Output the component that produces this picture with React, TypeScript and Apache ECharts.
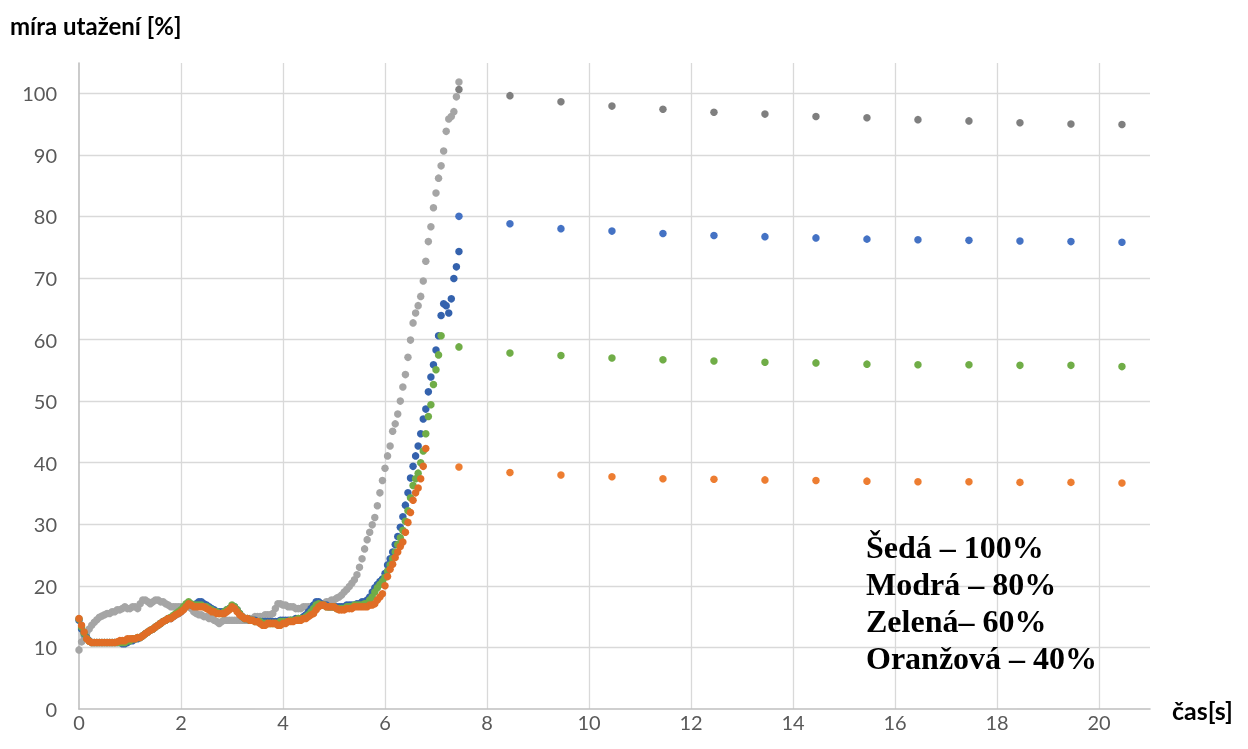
import React, { useEffect, useRef } from "react";
import * as echarts from "echarts";

// sampling step of the dense measurement (s)
const DT = 0.05;

// dense measurement, one value every DT seconds starting at t = 0
const grayDense = [
  9.6, 10.9, 11.8, 12.4, 13.0, 13.6, 14.1, 14.5, 14.9, 15.1,
  15.3, 15.5, 15.5, 15.8, 15.8, 16.1, 16.1, 16.3, 16.6, 16.3,
  16.3, 16.6, 16.6, 16.3, 17.1, 17.7, 17.7, 17.4, 17.1, 17.4,
  17.7, 17.7, 17.4, 17.4, 17.1, 16.9, 16.6, 16.6, 16.6, 16.6,
  16.6, 16.6, 16.6, 16.6, 16.3, 15.8, 15.5, 15.3, 15.3, 15.0,
  15.0, 14.7, 14.7, 14.4, 14.2, 13.9, 14.2, 14.4, 14.4, 14.4,
  14.4, 14.4, 14.4, 14.4, 14.4, 14.4, 14.4, 14.7, 14.7, 15.0,
  15.0, 15.0, 15.0, 15.3, 15.3, 15.3, 15.5, 16.3, 17.1, 17.1,
  16.9, 16.9, 16.6, 16.6, 16.6, 16.3, 16.3, 16.3, 16.6, 16.6,
  16.6, 16.6, 16.6, 16.9, 16.9, 17.1, 17.1, 17.4, 17.4, 17.7,
  17.7, 18.0, 18.2, 18.5, 19.0, 19.4, 19.9, 20.4, 21.0, 21.8,
  23.0, 24.4, 26.0, 27.5, 28.7, 29.9, 31.1, 33.0, 35.1, 37.1,
  39.1, 41.1, 42.7, 45.1, 46.3, 47.9, 50.0, 52.3, 54.3, 57.1,
  59.9, 62.7, 64.3, 65.5, 67.0, 69.5, 72.7, 75.9, 78.3, 81.4,
  83.8, 86.2, 88.2, 90.6, 93.8, 95.8, 96.2, 97.0, 99.4, 101.8,
];

const blueDense = [
  14.4, 13.0, 12.2, 11.6, 11.1, 10.8, 10.8, 10.8, 10.8, 10.8,
  10.8, 10.8, 10.8, 10.8, 10.8, 10.8, 10.8, 10.6, 10.6, 10.8,
  11.1, 11.1, 11.4, 11.4, 11.6, 11.9, 12.2, 12.5, 12.8, 13.0,
  13.3, 13.6, 13.9, 14.2, 14.4, 14.7, 14.7, 15.0, 15.3, 15.5,
  15.8, 16.3, 16.9, 17.1, 16.9, 16.9, 17.1, 17.4, 17.4, 17.1,
  16.9, 16.6, 16.3, 16.1, 15.8, 15.8, 15.8, 15.8, 16.1, 16.3,
  16.6, 16.6, 16.1, 15.5, 15.0, 14.7, 14.7, 14.4, 14.4, 14.4,
  14.2, 14.2, 14.2, 14.2, 14.2, 14.2, 14.2, 14.2, 14.2, 14.4,
  14.4, 14.4, 14.4, 14.4, 14.4, 14.7, 14.7, 14.7, 15.0, 15.3,
  15.8, 16.3, 16.9, 17.4, 17.4, 17.1, 16.9, 16.9, 16.6, 16.6,
  16.6, 16.6, 16.6, 16.6, 16.6, 16.9, 16.9, 16.9, 16.9, 17.1,
  17.1, 17.4, 17.4, 17.7, 18.2, 19.0, 19.7, 20.2, 20.7, 21.1,
  22.0, 23.4, 24.4, 25.5, 26.7, 28.0, 29.5, 31.2, 33.1, 35.1,
  37.5, 39.4, 41.1, 42.7, 44.7, 47.1, 48.7, 51.5, 53.9, 55.9,
  58.3, 60.6, 63.9, 65.8, 65.5, 64.3, 66.6, 69.9, 71.8, 74.3,
];

const greenDense = [
  14.6, 13.3, 12.3, 11.5, 11.0, 10.8, 10.8, 10.8, 10.8, 10.8,
  10.8, 10.8, 10.8, 10.8, 10.8, 10.8, 10.8, 10.8, 10.8, 11.1,
  11.1, 11.4, 11.4, 11.6, 11.6, 11.9, 12.2, 12.5, 12.8, 13.0,
  13.3, 13.6, 13.9, 14.2, 14.4, 14.7, 14.9, 15.2, 15.5, 15.8,
  16.1, 16.6, 17.1, 17.4, 17.1, 16.9, 16.9, 16.9, 16.9, 16.6,
  16.6, 16.3, 16.1, 15.8, 15.8, 15.5, 15.5, 15.8, 16.1, 16.3,
  16.9, 16.6, 16.1, 15.5, 15.0, 14.7, 14.7, 14.4, 14.4, 14.2,
  14.2, 14.2, 13.9, 13.9, 13.9, 13.9, 13.9, 13.9, 13.9, 14.2,
  14.2, 14.2, 14.2, 14.4, 14.4, 14.4, 14.7, 14.7, 14.7, 15.0,
  15.3, 15.8, 16.3, 16.9, 17.1, 16.9, 16.9, 16.6, 16.6, 16.6,
  16.6, 16.3, 16.3, 16.3, 16.3, 16.6, 16.6, 16.6, 16.9, 16.9,
  16.9, 16.9, 17.1, 17.1, 17.7, 18.2, 19.0, 19.7, 20.2, 20.7,
  21.4, 22.4, 23.4, 24.4, 25.5, 26.7, 27.8, 29.0, 30.5, 32.2,
  34.3, 36.3, 37.4, 38.3, 40.0, 41.9, 44.7, 47.5, 49.4, 52.7,
  55.1, 57.5, 60.6,
];

const orangeDense = [
  14.7, 13.6, 12.5, 11.4, 11.0, 10.8, 10.8, 10.8, 10.8, 10.8,
  10.8, 10.8, 10.8, 10.8, 10.8, 10.9, 11.1, 11.1, 11.1, 11.4,
  11.4, 11.4, 11.4, 11.6, 11.6, 11.9, 12.2, 12.5, 12.8, 13.0,
  13.3, 13.6, 13.9, 14.2, 14.4, 14.7, 14.7, 15.0, 15.3, 15.5,
  15.8, 16.1, 16.6, 17.1, 16.9, 16.6, 16.6, 16.6, 16.6, 16.6,
  16.3, 16.1, 15.8, 15.8, 15.5, 15.5, 15.5, 15.5, 15.8, 16.1,
  16.6, 16.3, 15.8, 15.3, 15.0, 14.7, 14.7, 14.4, 14.4, 14.2,
  14.2, 13.9, 13.6, 13.6, 13.9, 13.9, 13.9, 13.9, 13.6, 13.6,
  13.9, 13.9, 14.2, 14.2, 14.2, 14.4, 14.4, 14.4, 14.7, 14.7,
  15.0, 15.3, 15.5, 16.1, 16.6, 16.9, 16.9, 16.6, 16.6, 16.6,
  16.6, 16.3, 16.1, 16.1, 16.1, 16.3, 16.3, 16.3, 16.6, 16.6,
  16.6, 16.6, 16.6, 16.6, 16.9, 16.9, 17.1, 17.7, 18.2, 18.7,
  20.0, 21.5, 22.7, 23.5, 24.6, 25.5, 26.4, 27.1, 28.7, 30.3,
  31.9, 33.9, 35.1, 35.9, 37.4, 39.4, 42.3,
];

// sparse settled values
const tailTimes = [7.45, 8.45, 9.45, 10.45, 11.45, 12.45, 13.45, 14.45, 15.45, 16.45, 17.45, 18.45, 19.45, 20.45];
const grayTail = [100.6, 99.6, 98.6, 97.9, 97.4, 96.9, 96.6, 96.2, 96.0, 95.7, 95.5, 95.2, 95.0, 94.9];
const blueTail = [80.0, 78.8, 78.0, 77.6, 77.2, 76.9, 76.7, 76.5, 76.3, 76.2, 76.1, 76.0, 75.9, 75.8];
const greenTail = [58.8, 57.8, 57.4, 57.0, 56.7, 56.5, 56.3, 56.2, 56.0, 55.9, 55.9, 55.8, 55.8, 55.6];
const orangeTail = [39.3, 38.4, 38.0, 37.7, 37.4, 37.3, 37.2, 37.1, 37.0, 36.9, 36.9, 36.8, 36.8, 36.7];

const yTitle = "míra utažení [%]";
const xTitle = "čas[s]";
const noteLines = ["Šedá – 100%", "Modrá – 80%", "Zelená– 60%", "Oranžová – 40%"];

const dense = (vals: number[]) => vals.map((v, i) => [Number((i * DT).toFixed(2)), v]);
const tail = (vals: number[]) => vals.map((v, i) => [tailTimes[i], v]);

const GRID_COLOR = "#d9d9d9";
const T = "rgba(0,0,0,0)";
const gridColors = [T, GRID_COLOR, GRID_COLOR, GRID_COLOR, GRID_COLOR, GRID_COLOR, GRID_COLOR, GRID_COLOR, GRID_COLOR, GRID_COLOR, GRID_COLOR];

export default function App() {
  const ref = useRef<HTMLDivElement>(null);
  useEffect(() => {
    document.body.style.margin = "0";
    const chart = echarts.init(ref.current!, undefined, { renderer: "svg" });
    const sc = (name: string, data: number[][], color: string, size: number) => ({
      name,
      type: "scatter",
      data,
      symbol: "circle",
      symbolSize: size,
      itemStyle: { color, opacity: 1 },
      emphasis: { disabled: true },
    });
    chart.setOption({
      animation: false,
      grid: { left: 79, right: 98, top: 63, bottom: 40 },
      xAxis: {
        type: "value",
        min: 0,
        max: 21,
        interval: 2,
        axisLine: { show: true, onZero: false, lineStyle: { color: "#bfbfbf", width: 1.6 } },
        axisTick: { show: false },
        axisLabel: {
          color: "#595959",
          fontFamily: "Lato",
          fontSize: 20,
          margin: 3,
          formatter: (v: number) => (v % 2 === 0 ? String(v) : ""),
        },
        splitLine: { show: true, lineStyle: { color: gridColors, width: 1.3 } },
      },
      yAxis: {
        type: "value",
        min: 0,
        max: 104.9,
        interval: 10,
        axisLine: { show: true, onZero: false, lineStyle: { color: "#bfbfbf", width: 1.6 } },
        axisTick: { show: false },
        axisLabel: {
          color: "#595959",
          fontFamily: "Lato",
          fontSize: 20,
          margin: 22,
          formatter: (v: number) => (v % 10 === 0 ? String(v) : ""),
        },
        splitLine: { show: true, lineStyle: { color: gridColors, width: 1.3 } },
      },
      graphic: [
        {
          type: "text",
          left: 10,
          top: 13,
          style: { text: yTitle, font: "bold 24px Lato", fill: "#000" },
        },
        {
          type: "text",
          left: 1172,
          top: 697,
          style: { text: xTitle, font: "bold 25px Lato", fill: "#000" },
        },
        ...noteLines.map((t, i) => ({
          type: "text",
          left: 866,
          top: 531 + i * 37,
          z: 10,
          style: { text: t, font: "bold 32px 'Liberation Serif'", fill: "#000" },
        })),
      ],
      series: [
        sc("Šedá dense", dense(grayDense), "#a5a5a5", 7.5),
        sc("Šedá", tail(grayTail), "#7f7f7f", 7.5),
        sc("Modrá dense", dense(blueDense), "#3462ad", 7.5),
        sc("Modrá", tail(blueTail), "#4472c4", 7.5),
        sc("Zelená dense", dense(greenDense), "#70ad47", 7.5),
        sc("Zelená", tail(greenTail), "#70ad47", 7.5),
        sc("Oranžová dense", dense(orangeDense), "#e06d26", 7.5),
        sc("Oranžová", tail(orangeTail), "#ed7d31", 7.5),
      ],
    });
    return () => chart.dispose();
  }, []);
  return <div ref={ref} style={{ position: "fixed", left: 0, top: 0, width: 1248, height: 749 }} />;
}
